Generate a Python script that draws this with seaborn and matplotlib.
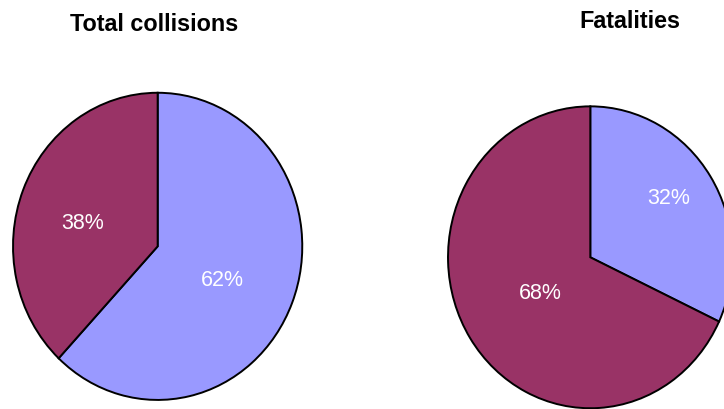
import numpy as np
import matplotlib
matplotlib.use("Agg")
import matplotlib.pyplot as plt
import matplotlib.transforms as mtransforms
import seaborn as sns

# Data
categories = ["Group A", "Group B"]
collisions = [62, 38]
fatalities = [32, 68]
titles = ["Total collisions", "Fatalities"]

sns.set_style("white")
plt.rcParams["font.family"] = ["Liberation Sans", "DejaVu Sans"]

colors = ["#9999FF", "#993366"]

W, H = 724, 410
fig = plt.figure(figsize=(W / 100, H / 100), dpi=100)
fig.patch.set_facecolor("white")

def px_axes(x0, x1, ytop, ybot):
    return fig.add_axes([x0 / W, (H - ybot) / H, (x1 - x0) / W, (ybot - ytop) / H])

ax1 = px_axes(12.3, 303.0, 93.0, 401.7)
ax2 = px_axes(447.3, 733.3, 106.6, 410.0)

LABEL_FS = 15.5

def draw_pie(ax, values, dists, offsets):
    wedges, _ = ax.pie(values, colors=colors, startangle=90, counterclock=False,
                       radius=1.0, center=(0, 0), frame=False,
                       wedgeprops=dict(edgecolor="black", linewidth=1.4))
    total = float(sum(values))
    trans = mtransforms.offset_copy(ax.transData, fig=fig, x=0,
                                    y=-0.358 * LABEL_FS, units="points")
    for w, v, d, off in zip(wedges, values, dists, offsets):
        ang = np.deg2rad((w.theta1 + w.theta2) / 2.0 + off)
        ax.text(d * np.cos(ang), d * np.sin(ang), f"{v / total * 100:.0f}%",
                color="white", fontsize=LABEL_FS, ha="center", va="baseline",
                transform=trans)
    ax.set_xlim(-1.005, 1.005)
    ax.set_ylim(-1.005, 1.005)
    ax.set_aspect("auto")
    ax.axis("off")

draw_pie(ax1, collisions, [0.49, 0.543], [-2.9, 3.3])
draw_pie(ax2, fatalities, [0.685, 0.415], [4.5, -0.4])

fig.text(154 / W, 1 - 24.7 / H, titles[0], ha="center", va="center",
         fontsize=16.8, fontweight="bold", color="black")
fig.text(629.8 / W, 1 - 22.0 / H, titles[1], ha="center", va="center",
         fontsize=16.8, fontweight="bold", color="black")

fig.savefig("out.png", dpi=100, facecolor="white")
